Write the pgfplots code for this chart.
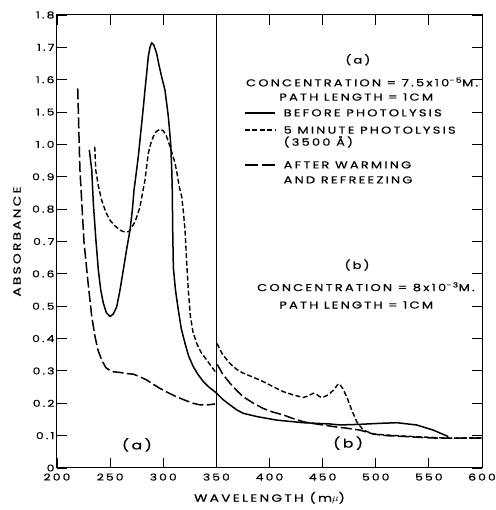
\documentclass[border=0pt]{standalone}
\usepackage{fontspec}
\setmainfont{Poppins}[FakeStretch=1.3, LetterSpace=22, FakeBold=0.6]
\usepackage{pgfplots}
\pgfplotsset{compat=1.18}
\begin{document}
\begin{tikzpicture}
\begin{axis}[
  scale only axis, width=425pt, height=453pt,
  xmin=200, xmax=600, ymin=0, ymax=1.4,
  xtick={200,250,...,600},
  ytick={0,0.1,0.2,0.3,0.4,0.5,0.6,0.7,0.8,0.9,1.0,1.1,1.2,1.3,1.4},
  yticklabels={0,0.1,0.2,0.3,0.4,0.5,0.6,0.7,0.8,0.9,1.0,1.5,1.6,1.7,1.8},
  /pgf/number format/assume math mode=true,
  tick label style={font=\fontsize{9.5}{10}\selectfont},
  xticklabel style={yshift=-2pt},
  yticklabel style={xshift=1pt},
  tick align=inside, major tick length=10pt,
  every tick/.style={line width=0.9pt, black},
  axis line style={line width=1pt},
  y filter/.expression={y>1.45 ? y-0.4 : y},
  xlabel={WAVELENGTH (m$\mu$)},
  ylabel={ABSORBANCE},
  label style={font=\fontsize{10.5}{12}\selectfont},
  xlabel style={at={(axis description cs:0.5,-0.066)}, anchor=center},
  ylabel style={at={(axis description cs:-0.094,0.5)}, anchor=center},
  every axis plot/.append style={line join=round},
]
% divider at 350
\addplot[black, line width=0.9pt] coordinates {(350,0) (350,1.8)};

% BEFORE PHOTOLYSIS (solid)
\addplot[black, line width=1.5pt] coordinates {
(230.4,0.983) (232.7,0.921) (234.2,0.818) (236.5,0.71) (238.9,0.612) (241.2,0.55)
(243.6,0.509) (246.5,0.48) (249.9,0.468) (253.0,0.476) (256.2,0.498) (259.3,0.55)
(262.4,0.612) (265.5,0.675) (268.7,0.735) (271.0,0.80) (272.5,0.859) (274.5,0.91)
(276.5,0.962) (278.0,1.01) (279.7,1.065) (281.3,1.516) (282.8,1.568) (284.4,1.62)
(285.9,1.671) (287.5,1.70) (289.1,1.714) (291.0,1.708) (293.8,1.681) (296.0,1.645)
(298.5,1.609) (301.6,1.568) (303.5,1.52) (304.8,1.086) (307.0,1.003) (308.0,0.921)
(308.5,0.859) (308.9,0.735) (309.5,0.62) (311.5,0.55) (314.2,0.488) (317,0.43)
(320.5,0.385) (324,0.345) (328.3,0.313) (332.5,0.29) (337.7,0.267) (343,0.25)
(349.6,0.233) (350.3,0.231) (356,0.212) (362.8,0.195) (369,0.18) (375.3,0.169)
(388,0.159) (406.8,0.148) (431.8,0.140) (457,0.136) (466.4,0.133) (485.2,0.135)
(504,0.138) (519.7,0.14) (538.5,0.133) (554.2,0.117) (568.3,0.097)
};

% 5 MINUTE PHOTOLYSIS (dashed), part (a)
\addplot[black, line width=1.4pt, dash pattern=on 5pt off 2.5pt] coordinates {
(235.5,0.993) (236.5,0.92) (239,0.87) (242,0.828) (246,0.79) (249.9,0.766)
(254,0.75) (259.3,0.735) (263,0.73) (267.1,0.73) (268.7,0.735) (271.8,0.752)
(273.4,0.761) (276,0.785) (278.1,0.807) (280.5,0.85) (282.8,0.89) (285.9,0.972)
(288,1.0) (290.6,1.024) (293.5,1.04) (296.9,1.047) (300,1.042) (302.6,1.029)
(304.5,1.012) (306.4,0.993) (308.8,0.968) (311.1,0.942) (313,0.91) (315.1,0.869)
(317.4,0.838) (319,0.79) (320.5,0.735) (322.1,0.633) (323.6,0.55) (325.5,0.47)
(328,0.42) (331.5,0.385) (336,0.355) (340.9,0.334) (345,0.315) (349.6,0.295)
};
% 5 MINUTE PHOTOLYSIS (dashed), part (b)
\addplot[black, line width=1.4pt, dash pattern=on 5pt off 2.5pt] coordinates {
(350.5,0.385) (356,0.35) (362.8,0.323) (369,0.305) (375.3,0.293) (385,0.28)
(394.1,0.267) (403,0.252) (413,0.236) (422,0.226) (431.8,0.218) (436,0.222)
(441.2,0.231) (444,0.228) (447.5,0.22) (451,0.22) (455.3,0.226) (460,0.24)
(464.8,0.26) (466.4,0.258) (469,0.245) (472.7,0.22) (477.4,0.179) (482.1,0.143)
(488.3,0.117) (497.7,0.105) (510,0.102) (530,0.098) (550,0.095) (570,0.092)
(585,0.093) (600,0.093)
};

% AFTER WARMING AND REFREEZING (long dashes), part (a)
\addplot[black, line width=1.5pt, dash pattern=on 11pt off 3.5pt] coordinates {
(219.5,1.573) (220.1,1.50) (220.9,1.0) (221.6,0.921) (223.5,0.81) (225.4,0.699)
(229,0.58) (232.7,0.468) (235.8,0.406) (238.5,0.365) (242,0.334) (246,0.31)
(251.5,0.298) (260,0.295) (265,0.292) (271.8,0.290) (278,0.282) (284.4,0.272)
(290,0.26) (296.9,0.246) (305,0.232) (312.6,0.220) (320,0.21) (328.3,0.200)
(334.6,0.195) (342,0.195) (348.7,0.198)
};
% AFTER WARMING AND REFREEZING (long dashes), part (b)
\addplot[black, line width=1.5pt, dash pattern=on 11pt off 3.5pt] coordinates {
(350.9,0.32) (356,0.29) (362.8,0.262) (369,0.24) (375.3,0.220) (385,0.2)
(394.1,0.184) (403,0.173) (413,0.164) (422,0.153) (431.8,0.143) (440,0.138)
(450.6,0.133) (460,0.128) (472.7,0.123) (485.2,0.117) (497.7,0.105) (510,0.1)
(529.1,0.097) (545,0.094) (560.5,0.092) (580,0.092) (600,0.092)
};

% annotations
\node[font=\fontsize{10}{12}\selectfont] at (rel axis cs:0.708,0.901) {(a)};
\node[font=\fontsize{10}{12}\selectfont] at (rel axis cs:0.718,0.852) {CONCENTRATION = 7.5x10\textsuperscript{−5}M.};
\node[font=\fontsize{10}{12}\selectfont] at (rel axis cs:0.704,0.819) {PATH LENGTH = 1CM};
\draw[black, line width=1.5pt] (rel axis cs:0.442,0.784) -- (rel axis cs:0.513,0.784);
\draw[black, line width=1.4pt, dash pattern=on 5pt off 2.5pt] (rel axis cs:0.442,0.746) -- (rel axis cs:0.513,0.746);
\draw[black, line width=1.5pt, dash pattern=on 13pt off 4pt] (rel axis cs:0.442,0.669) -- (rel axis cs:0.513,0.669);
\node[font=\fontsize{10}{12}\selectfont, anchor=west] at (rel axis cs:0.525,0.784) {BEFORE PHOTOLYSIS};
\node[font=\fontsize{10}{12}\selectfont, anchor=west] at (rel axis cs:0.525,0.746) {5 MINUTE PHOTOLYSIS};
\node[font=\fontsize{10}{12}\selectfont, anchor=west] at (rel axis cs:0.525,0.720) {(3500 Å)};
\node[font=\fontsize{10}{12}\selectfont, anchor=west] at (rel axis cs:0.525,0.669) {AFTER WARMING};
\node[font=\fontsize{10}{12}\selectfont, anchor=west] at (rel axis cs:0.525,0.636) {AND REFREEZING};
\node[font=\fontsize{10}{12}\selectfont] at (rel axis cs:0.706,0.448) {(b)};
\node[font=\fontsize{10}{12}\selectfont] at (rel axis cs:0.727,0.400) {CONCENTRATION = 8x10\textsuperscript{−3}M.};
\node[font=\fontsize{10}{12}\selectfont] at (rel axis cs:0.704,0.360) {PATH LENGTH = 1CM};
\node[font=\fontsize{12}{14}\selectfont] at (rel axis cs:0.188,0.051) {(a)};
\node[font=\fontsize{12}{14}\selectfont] at (rel axis cs:0.685,0.055) {(b)};
\coordinate (SW) at (rel axis cs:0,0);
\coordinate (NE) at (rel axis cs:1,1);
\end{axis}
\pgfresetboundingbox
\path ([shift={(-57pt,-42pt)}]SW) rectangle ([shift={(13pt,15pt)}]NE);
\end{tikzpicture}
\end{document}
